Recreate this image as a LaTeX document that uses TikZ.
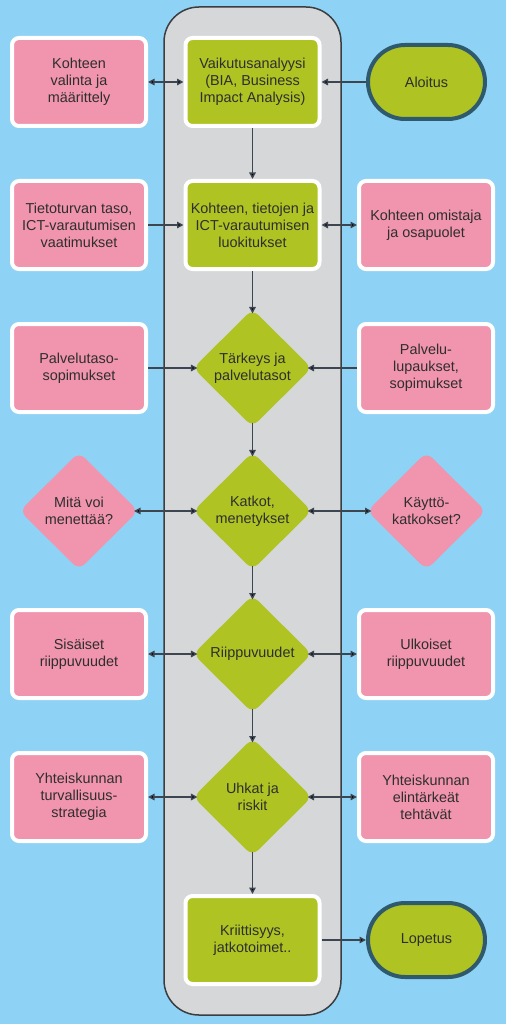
\documentclass[tikz,border=0pt]{standalone}
\usepackage{fontspec}
\setmainfont{Liberation Sans}
\usepackage{xcolor}
\usepackage{tikz}
\usetikzlibrary{arrows.meta}
\usetikzlibrary{shapes.geometric}
\usetikzlibrary{positioning}

\definecolor{bgblue}{HTML}{8ED3F5}
\definecolor{pinkfill}{HTML}{F194AE}
\definecolor{greenfill}{HTML}{AFC423}
\definecolor{colgray}{HTML}{D6D7D9}
\definecolor{colborder}{HTML}{3C3D40}
\definecolor{termblue}{HTML}{2F5A6D}
\definecolor{linegray}{HTML}{3D4650}
\definecolor{txtgray}{HTML}{2E2E2E}

\begin{document}
\begin{tikzpicture}[x=1pt,y=-1pt,-,>={Triangle[length=6.5pt,width=6.5pt]},auto,node distance=143pt]
 \tikzstyle{box}=[draw=white, line width=4pt, rounded corners=7pt, minimum width=134pt, minimum height=88pt, inner sep=2pt, align=center, text=txtgray, font=\fontsize{14.4}{17}\selectfont]
 \tikzstyle{pinkbox}=[box, fill=pinkfill]
 \tikzstyle{greenbox}=[box, fill=greenfill]
 \tikzstyle{dia}=[diamond, aspect=1, rounded corners=8pt, minimum width=116pt, minimum height=115pt, inner sep=0pt, outer sep=-3pt, align=center, text=txtgray, font=\fontsize{14.4}{17}\selectfont]
 \tikzstyle{term}=[rectangle, draw=termblue, line width=4pt, fill=greenfill, rounded corners=37pt, minimum width=117pt, minimum height=74pt, text=txtgray, font=\fontsize{14.4}{17}\selectfont]
 \tikzstyle{arr}=[draw=linegray, line width=1.4pt]

 % background and middle column
 \fill[bgblue] (0,0) rectangle (506,1024);
 \draw[fill=colgray, draw=colborder, line width=1.5pt, rounded corners=35pt] (164,7) rectangle (341,1015);

 % middle column
 \node[greenbox]      (C1) at (252.5,82) {Vaikutusanalyysi\\(BIA, Business\\Impact Analysis)};
 \node[greenbox]      (C2) [below of=C1] {Kohteen, tietojen ja\\ICT-varautumisen\\luokitukset};
 \node[dia, fill=greenfill] (C3) [below of=C2] {Tärkeys ja\\palvelutasot};
 \node[dia, fill=greenfill] (C4) [below of=C3] {Katkot,\\menetykset};
 \node[dia, fill=greenfill] (C5) [below of=C4] {Riippuvuudet};
 \node[dia, fill=greenfill] (C6) [below of=C5] {Uhkat ja\\riskit};
 \node[greenbox]      (C7) [below of=C6] {Kriittisyys,\\jatkotoimet..};

 % left side
 \node[pinkbox]       (L1) [node distance=173.5pt, left of=C1] {Kohteen\\valinta ja\\määrittely};
 \node[pinkbox]       (L2) [node distance=173.5pt, left of=C2] {Tietoturvan taso,\\ICT-varautumisen\\vaatimukset};
 \node[pinkbox]       (L3) [node distance=173.5pt, left of=C3] {Palvelutaso-\\sopimukset};
 \node[dia, fill=pinkfill] (L4) [node distance=173.5pt, left of=C4] {Mitä voi\\menettää?};
 \node[pinkbox]       (L5) [node distance=173.5pt, left of=C5] {Sisäiset\\riippuvuudet};
 \node[pinkbox]       (L6) [node distance=173.5pt, left of=C6] {Yhteiskunnan\\turvallisuus-\\strategia};

 % right side
 \node[term]          (R1) [node distance=174pt, right of=C1] {Aloitus};
 \node[pinkbox]       (R2) [node distance=173.5pt, right of=C2] {Kohteen omistaja\\ja osapuolet};
 \node[pinkbox]       (R3) [node distance=173.5pt, right of=C3] {Palvelu-\\lupaukset,\\sopimukset};
 \node[dia, fill=pinkfill] (R4) [node distance=174pt, right of=C4] {Käyttö-\\katkokset?};
 \node[pinkbox]       (R5) [node distance=173.5pt, right of=C5] {Ulkoiset\\riippuvuudet};
 \node[pinkbox]       (R6) [node distance=173.5pt, right of=C6] {Yhteiskunnan\\elintärkeät\\tehtävät};
 \node[term]          (R7) [node distance=174pt, right of=C7] {Lopetus};

 \path[arr]
   (C1) edge[->]  (C2)
   (C2) edge[->]  (C3)
   (C3) edge[->]  (C4)
   (C4) edge[->]  (C5)
   (C5) edge[->]  (C6)
   (C6) edge[->]  (C7)
   (L1) edge[<->] (C1)
   (R1) edge[->]  (C1)
   (L2) edge[->]  (C2)
   (C2) edge[<->] (R2)
   (L3) edge[->]  (C3)
   (R3) edge[->]  (C3)
   (L4) edge[<->] (C4)
   (C4) edge[<->] (R4)
   (L5) edge[<->] (C5)
   (C5) edge[<->] (R5)
   (L6) edge[<->] (C6)
   (C6) edge[<->] (R6)
   (C7) edge[->]  (R7);
\end{tikzpicture}
\end{document}
